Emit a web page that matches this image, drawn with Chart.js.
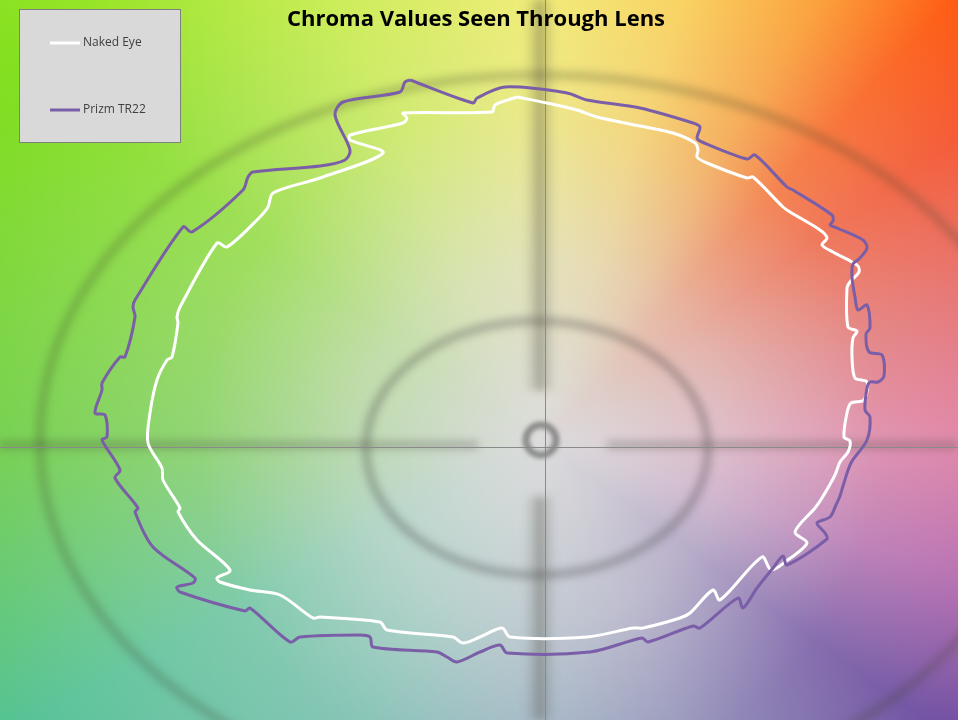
<!DOCTYPE html>
<html>
<head>
<meta charset="utf-8">
<script src="https://cdn.jsdelivr.net/npm/chart.js@4.4.1/dist/chart.umd.min.js"></script>
<style>
  html, body { margin: 0; padding: 0; background: #fff; }
  #wrap { width: 958px; height: 720px; position: relative; }
</style>
</head>
<body>
<div id="wrap"><canvas id="myChart"></canvas></div>
<script>
// chroma coordinates (a* right = red, b* up = yellow)
const chartTitle = 'Chroma Values Seen Through Lens';
const seriesNames = ['Naked Eye', 'Prizm TR22'];

const nakedEye = [
  [-5.6,70],[0.4,68.8],[6.4,67.4],[10.4,66],[19,64.2],[25.6,62.8],[30,60.8],[30.6,59.4],
  [30.4,58],[32.4,56.8],[40.4,53.8],[41.6,54],[47.6,48],[49,47],[55,43.4],[56.4,41.8],
  [55.4,40.4],[57.6,39],[61.4,37],[62.6,36.2],[62.8,35],[61,33],[60.4,31.8],[60.6,24],
  [62.4,23.2],[61.6,21.8],[61.4,18],[62,13.8],[64.4,13],[63.8,9.4],[61.2,8.8],[60.4,6.8],
  [59.8,2],[61,1.2],[60.6,-1],[59,-3],[58,-5.6],[55.4,-10.2],[54,-12.2],[50,-17],
  [52.4,-19.2],[48,-23],[45.2,-24.6],[43.4,-22],[35,-30.6],[33.6,-28.6],[29,-33.2],[27,-34.2],
  [19.6,-36.2],[17.6,-36.2],[8.4,-38],[-7,-38],[-8.6,-36.2],[-13,-38],[-16.4,-39.2],[-18.4,-38],
  [-31.6,-36.6],[-33,-35],[-45,-34],[-46.4,-34.2],[-53,-29.6],[-59,-28.6],[-65,-27],[-65.6,-26.2],
  [-63,-24.6],[-69.6,-18.6],[-73.4,-13],[-73,-12.2],[-76.4,-6.6],[-76.6,-4.2],[-79.4,0.8],[-79,6.8],
  [-77.6,13.4],[-75.6,17.4],[-74.6,18],[-73.4,24.8],[-73.6,26],[-73,28],[-65.6,40.8],[-63.6,40],
  [-57.6,45.4],[-55.4,48],[-54.4,50.8],[-45,53.8],[-32.4,58.8],[-39,61.4],[-39,62.4],[-28.4,64.8],
  [-27.6,65.8],[-28.4,66.8],[-10.6,67],[-10,68.4],[-5.6,70]
];

const prizmTR22 = [
  [-27,73.4],[-14.4,68.8],[-13.6,69.8],[-8,72],[4.4,70.8],[8.4,69.4],[19,67.8],[29.6,64.8],
  [31,64],[30.4,61.8],[31.4,61],[40.4,57.6],[42,58.4],[48.4,52],[49.6,51.4],[57.4,46.4],
  [57.6,45.2],[57,44.4],[58.4,43.8],[63.6,41.4],[64.4,39.8],[63,37.8],[61.6,36.6],[61.4,34],
  [62,30],[62.6,27.4],[64.4,28.4],[65,23.8],[64.2,22.6],[64.8,19],[67.4,18.4],[67.8,14.2],
  [66.6,13],[65,13],[64.4,11.8],[64,7.4],[65,6],[64.4,1.4],[61.2,-3.2],[59.6,-7.8],
  [59,-9.8],[58.2,-11.6],[57,-14],[54.4,-15.2],[56,-17.2],[56.4,-18.4],[48.4,-23.6],[47.6,-21.8],
  [45.6,-24.2],[42.4,-28.2],[39.6,-32.2],[38.6,-30.2],[31,-36.2],[29.6,-35.8],[20.6,-39],[19.4,-38.2],
  [9,-41],[-7.6,-41.2],[-9,-39.6],[-13,-41],[-17.6,-43],[-19.6,-42],[-21.6,-41],[-34.4,-40],
  [-35,-38],[-37,-37.6],[-49,-38],[-51,-39],[-59,-32.2],[-60,-32.8],[-73,-29],[-73.6,-28],
  [-70.4,-27.2],[-70,-26.2],[-78.4,-20],[-82,-13],[-81.4,-12.2],[-86,-6.2],[-85,-4.6],[-88.6,1.4],
  [-87.6,2],[-88,6.4],[-90,6.8],[-88.6,11.4],[-88.6,12.8],[-85,18],[-84,18],[-82,26],
  [-82.4,28],[-82,29.4],[-72.4,44],[-70.6,43],[-60.4,51.4],[-59.4,54],[-58.4,55],[-45,56.2],
  [-40,57.4],[-39,59.4],[-42,66.4],[-40.4,69],[-29,71],[-28,73],[-27,73.4]
];

// axis range
const xRange = [-109, 82.6];
const yRange = [-54.6, 89.4];

function toPoints(arr) {
  return arr.map(p => ({ x: p[0], y: p[1] }));
}

// colour wheel backdrop with the blurred reticle
const backdrop = {
  id: 'backdrop',
  beforeDraw(chart) {
    const ctx = chart.ctx;
    const w = chart.width, h = chart.height;
    const xs = chart.scales.x, ys = chart.scales.y;
    const cx = xs.getPixelForValue(-1), cy = ys.getPixelForValue(1.4);
    ctx.save();
    const g = ctx.createConicGradient(0, cx, cy);
    g.addColorStop(0.00, '#e2709c');
    g.addColorStop(0.05, '#b058a8');
    g.addColorStop(0.10, '#5c3898');
    g.addColorStop(0.18, '#7474ac');
    g.addColorStop(0.25, '#7c9cb6');
    g.addColorStop(0.34, '#5cb8a4');
    g.addColorStop(0.42, '#52c294');
    g.addColorStop(0.50, '#6ed044');
    g.addColorStop(0.60, '#84e020');
    g.addColorStop(0.68, '#c8f040');
    g.addColorStop(0.75, '#f6f060');
    g.addColorStop(0.80, '#ffd048');
    g.addColorStop(0.84, '#ff9a28');
    g.addColorStop(0.87, '#ff5a10');
    g.addColorStop(0.90, '#f84a20');
    g.addColorStop(0.95, '#e86060');
    g.addColorStop(1.00, '#e2709c');
    ctx.fillStyle = g;
    ctx.fillRect(0, 0, w, h);

    const r = ctx.createRadialGradient(cx, cy, 0, cx, cy, 620);
    r.addColorStop(0, 'rgba(220,220,220,1)');
    r.addColorStop(0.12, 'rgba(220,220,220,0.9)');
    r.addColorStop(0.3, 'rgba(222,222,222,0.7)');
    r.addColorStop(0.55, 'rgba(222,222,222,0.32)');
    r.addColorStop(1, 'rgba(222,222,222,0)');
    ctx.fillStyle = r;
    ctx.fillRect(0, 0, w, h);

    // reticle
    ctx.filter = 'blur(4px)';
    ctx.strokeStyle = 'rgba(60,66,40,0.28)';
    ctx.lineWidth = 8;
    ctx.beginPath();
    ctx.ellipse(cx, cy, 500, 365, 0, 0, Math.PI * 2);
    ctx.stroke();
    ctx.strokeStyle = 'rgba(60,60,60,0.38)';
    ctx.lineWidth = 7;
    ctx.beginPath();
    ctx.ellipse(cx - 3, cy + 8, 171, 127, 0, 0, Math.PI * 2);
    ctx.stroke();
    ctx.filter = 'blur(2px)';
    ctx.lineWidth = 7;
    ctx.strokeStyle = 'rgba(60,60,60,0.5)';
    ctx.beginPath();
    ctx.arc(cx + 1, cy, 15, 0, Math.PI * 2);
    ctx.stroke();

    ctx.filter = 'blur(4px)';
    ctx.lineCap = 'butt';
    ctx.strokeStyle = 'rgba(70,70,60,0.12)';
    ctx.lineWidth = 26;
    ctx.beginPath();
    ctx.moveTo(cx, 0); ctx.lineTo(cx, cy - 50);
    ctx.moveTo(cx, cy + 57); ctx.lineTo(cx, h);
    ctx.stroke();
    ctx.strokeStyle = 'rgba(70,70,60,0.3)';
    ctx.lineWidth = 8;
    ctx.beginPath();
    ctx.moveTo(cx, 0); ctx.lineTo(cx, cy - 50);
    ctx.moveTo(cx, cy + 57); ctx.lineTo(cx, h);
    ctx.moveTo(0, cy + 5); ctx.lineTo(cx - 62, cy + 5);
    ctx.moveTo(cx + 67, cy + 5); ctx.lineTo(w, cy + 5);
    ctx.stroke();
    ctx.filter = 'none';

    // zero axes
    ctx.strokeStyle = '#8a8a8a';
    ctx.lineWidth = 1;
    const x0 = Math.round(xs.getPixelForValue(0)) + 0.5;
    const y0 = Math.round(ys.getPixelForValue(0)) + 0.5;
    ctx.beginPath();
    ctx.moveTo(x0, 0); ctx.lineTo(x0, h);
    ctx.moveTo(0, y0); ctx.lineTo(w, y0);
    ctx.stroke();
    ctx.restore();
  }
};

// title and boxed legend drawn over the plot like the original
const overlay = {
  id: 'overlay',
  afterDraw(chart) {
    const ctx = chart.ctx;
    ctx.save();
    ctx.font = 'bold 22px "Open Sans", sans-serif';
    ctx.fillStyle = '#000';
    ctx.textAlign = 'center';
    ctx.textBaseline = 'middle';
    ctx.fillText(chartTitle, 476, 20);

    ctx.fillStyle = '#d9d9d9';
    ctx.fillRect(20, 10, 161, 133);
    ctx.strokeStyle = '#7f7f7f';
    ctx.lineWidth = 1;
    ctx.strokeRect(19.5, 9.5, 161, 133);

    const rows = [43, 110];
    ctx.font = '12px "Open Sans", sans-serif';
    ctx.textAlign = 'left';
    chart.data.datasets.forEach((ds, i) => {
      ctx.strokeStyle = ds.borderColor;
      ctx.lineWidth = 3;
      ctx.beginPath();
      ctx.moveTo(50, rows[i]); ctx.lineTo(80, rows[i]);
      ctx.stroke();
      ctx.fillStyle = '#404040';
      ctx.fillText(ds.label, 83, rows[i]);
    });
    ctx.restore();
  }
};

const ctx = document.getElementById('myChart').getContext('2d');
const myChart = new Chart(ctx, {
  type: 'scatter',
  data: {
    datasets: [{
      label: seriesNames[0],
      data: toPoints(nakedEye),
      showLine: true,
      borderColor: '#ffffff',
      borderWidth: 3,
      pointRadius: 0,
      tension: 0.3,
      order: 1
    }, {
      label: seriesNames[1],
      data: toPoints(prizmTR22),
      showLine: true,
      borderColor: '#7b5ea8',
      borderWidth: 3,
      pointRadius: 0,
      tension: 0.3,
      order: 0
    }]
  },
  options: {
    responsive: true,
    maintainAspectRatio: false,
    animation: false,
    layout: { padding: 0 },
    plugins: { legend: { display: false }, tooltip: { enabled: false } },
    scales: {
      x: { type: 'linear', min: xRange[0], max: xRange[1], display: false },
      y: { type: 'linear', min: yRange[0], max: yRange[1], display: false }
    }
  },
  plugins: [backdrop, overlay]
});
</script>
</body>
</html>
